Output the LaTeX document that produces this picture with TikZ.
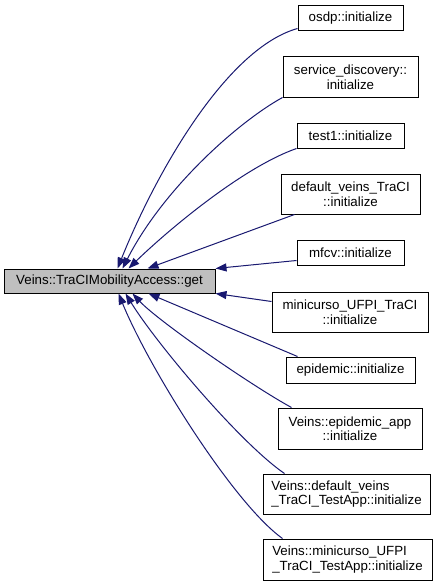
\documentclass[tikz,border=0pt]{standalone}
\usepackage{fontspec}
\setmainfont{Liberation Sans}
\usetikzlibrary{arrows.meta}
\definecolor{edgeblue}{HTML}{191970}
\definecolor{mainfill}{HTML}{BFBFBF}
\begin{document}
\begin{tikzpicture}[x=1pt,y=-1pt,
  box/.style={draw=black, line width=1pt, inner sep=0pt, fill=white,
    font=\fontsize{13.3}{14.5}\selectfont, align=center, anchor=center},
  callee/.style={box, fill=mainfill},
  edge/.style={draw=edgeblue, line width=1pt, -{Triangle[length=11pt,width=8pt]}}]
\useasboundingbox (0,0) rectangle (443,586);

\node[callee, minimum width=211pt, minimum height=24pt] (main) at (109.5,281) {Veins::TraCIMobilityAccess::get};

\node[box, minimum width=105pt, minimum height=25pt] (osdp) at (350.5,18.5) {osdp::initialize};
\node[box, minimum width=135pt, minimum height=40pt] (sd) at (350.5,77) {service\_discovery::\\initialize};
\node[box, minimum width=107pt, minimum height=25pt] (t1) at (350.5,135.5) {test1::initialize};
\node[box, minimum width=139pt, minimum height=40pt] (dv) at (350.5,194) {default\_veins\_TraCI\\::initialize};
\node[box, minimum width=107pt, minimum height=25pt] (mf) at (350.5,252.5) {mfcv::initialize};
\node[box, minimum width=156pt, minimum height=40pt] (mu) at (350,312) {minicurso\_UFPI\_TraCI\\::initialize};
\node[box, minimum width=129pt, minimum height=26pt] (ep) at (350.5,370) {epidemic::initialize};
\node[box, minimum width=144pt, minimum height=41pt] (ea) at (350,428.5) {Veins::epidemic\_app\\::initialize};
\node[box, align=left, minimum width=167pt, minimum height=40pt] (dt) at (346.5,494) {Veins::default\_veins\\\_TraCI\_TestApp::initialize};
\node[box, align=left, minimum width=169pt, minimum height=41pt] (mt) at (347.5,559.5) {Veins::minicurso\_UFPI\\\_TraCI\_TestApp::initialize};

\draw[edge] ([yshift=3pt]osdp.south west) .. controls (228,48) and (158,168) .. ([xshift=114pt]main.north west);
\draw[edge] (sd.south west) .. controls (238,122) and (163,189) .. ([xshift=119pt]main.north west);
\draw[edge] (t1.south west) .. controls (241,168) and (165,233) .. ([xshift=125pt]main.north west);
\draw[edge] ([xshift=14pt]dv.south west) -- ([xshift=144pt]main.north west);
\draw[edge] ([yshift=5pt]mf.south west) -- (main.north east);
\draw[edge] ([yshift=-10pt]mu.north west) -- (main.south east);
\draw[edge] ([xshift=12pt]ep.north west) -- ([xshift=145pt]main.south west);
\draw[edge] ([xshift=14pt]ea.north west) .. controls (252,386) and (158,321) .. ([xshift=129pt]main.south west);
\draw[edge] ([xshift=22pt]dt.north west) .. controls (240,443) and (156,343) .. ([xshift=122pt]main.south west);
\draw[edge] ([xshift=20pt]mt.north west) .. controls (233,503) and (149,368) .. ([xshift=115pt]main.south west);
\end{tikzpicture}
\end{document}
